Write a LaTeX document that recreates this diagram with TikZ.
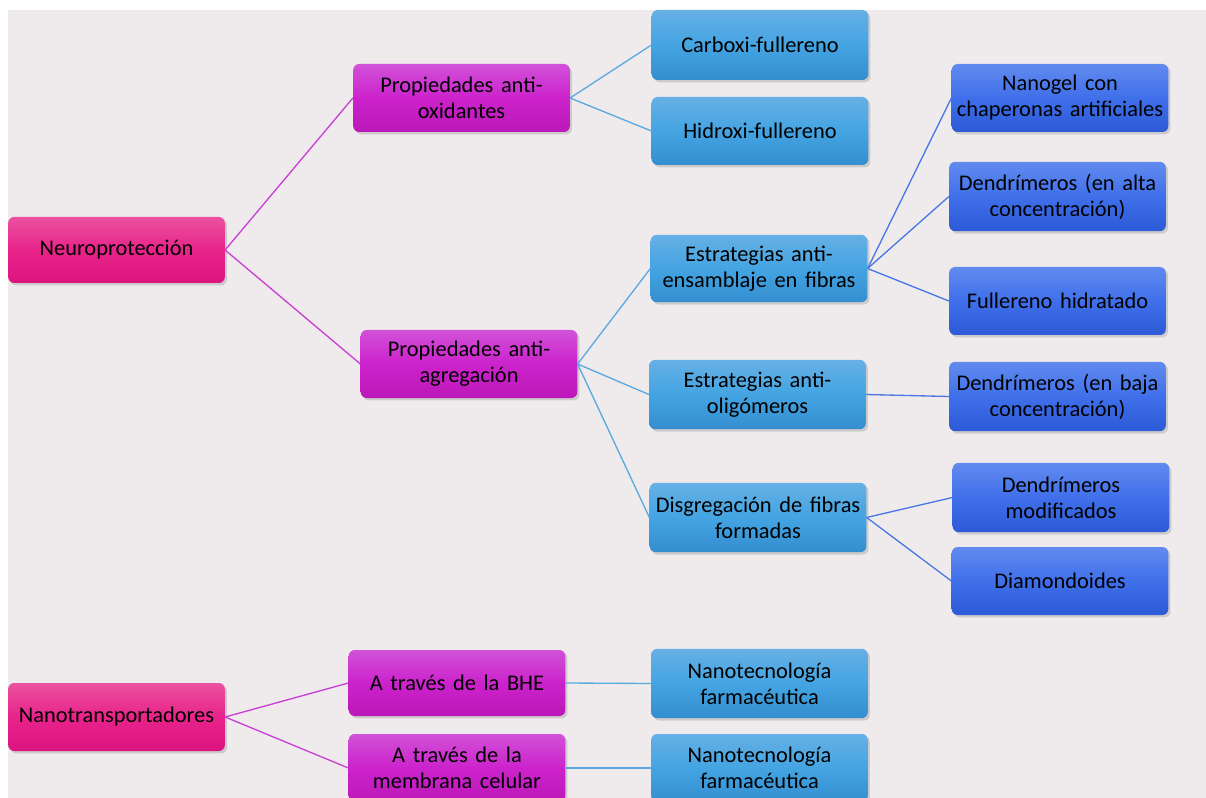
\documentclass[tikz,border=0pt]{standalone}
\usepackage{fontspec}
\setmainfont{Carlito}[WordSpace=1.5]
\usetikzlibrary{shadows}
\definecolor{bgc}{HTML}{EFEBEC}
\definecolor{pinkT}{HTML}{EA529F}
\definecolor{pinkM}{HTML}{E8238A}
\definecolor{pinkB}{HTML}{DB1480}
\definecolor{magT}{HTML}{D152D8}
\definecolor{magM}{HTML}{CC22CC}
\definecolor{magB}{HTML}{BC18B8}
\definecolor{lbT}{HTML}{66B0E5}
\definecolor{lbM}{HTML}{44A4E2}
\definecolor{lbB}{HTML}{348ED0}
\definecolor{dbT}{HTML}{628BEF}
\definecolor{dbM}{HTML}{3F6FEA}
\definecolor{dbB}{HTML}{2D5AD6}
\definecolor{magline}{HTML}{C840D4}
\definecolor{lbline}{HTML}{5AAAE0}
\definecolor{dbline}{HTML}{4A78E4}
\tikzset{
  basebox/.style={rectangle, rounded corners=4.5pt, minimum width=162.5pt, minimum height=51pt,
    inner sep=1pt, align=center, text=black,
    font=\fontsize{16.8}{19.5}\selectfont,
    drop shadow={opacity=0.3, shadow xshift=1.6pt, shadow yshift=-1.8pt}},
  pinkbox/.style={basebox, top color=pinkT, bottom color=pinkB, middle color=pinkM},
  magbox/.style={basebox, top color=magT, bottom color=magB, middle color=magM},
  lbbox/.style={basebox, top color=lbT, bottom color=lbB, middle color=lbM},
  dbbox/.style={basebox, top color=dbT, bottom color=dbB, middle color=dbM},
  magedge/.style={draw=magline, line width=1pt},
  lbedge/.style={draw=lbline, line width=1pt},
  dbedge/.style={draw=dbline, line width=1pt},
}
\begin{document}
\begin{tikzpicture}[x=0.75pt,y=-0.75pt]
\useasboundingbox (0,0) rectangle (1206,798);
\fill[white] (0,0) rectangle (1206,798);
\fill[bgc] (8,10) rectangle (1206,798);

\node[pinkbox, minimum height=49.5pt] (np) at (116.5,250) {Neuroprotección};
\node[magbox] (pao) at (461.5,98) {Propiedades anti-\\oxidantes};
\node[lbbox, minimum height=52.5pt] (carb) at (760,45) {Carboxi-fullereno};
\node[lbbox] (hidr) at (760,131) {Hidroxi-fullereno};
\node[dbbox] (nano) at (1060,98) {Nanogel con\\chaperonas artificiales};
\node[dbbox, minimum height=52pt] (dalta) at (1057.5,196.5) {Dendrímeros (en alta\\concentración)};
\node[dbbox] (fhid) at (1057.5,301) {Fullereno hidratado};
\node[lbbox, minimum height=50.5pt] (eens) at (759,268.5) {Estrategias anti-\\ensamblaje en fibras};
\node[magbox] (paa) at (469,364) {Propiedades anti-\\agregación};
\node[lbbox, minimum height=52pt] (eoli) at (757.5,394.5) {Estrategias anti-\\oligómeros};
\node[dbbox, minimum height=52pt] (dbaja) at (1057.5,396.5) {Dendrímeros (en baja\\concentración)};
\node[lbbox, minimum height=52pt] (disg) at (758,517.5) {Disgregación de fibras\\formadas};
\node[dbbox, minimum height=52pt] (dmod) at (1061,497.5) {Dendrímeros\\modificados};
\node[dbbox] (diam) at (1060,581) {Diamondoides};
\node[pinkbox] (nt) at (116.5,717) {Nanotransportadores};
\node[magbox, minimum height=49.5pt] (bhe) at (457,683) {A través de la BHE};
\node[magbox] (memb) at (457,768) {A través de la\\membrana celular};
\node[lbbox, minimum height=52pt] (nt1) at (759.5,683.5) {Nanotecnología\\farmacéutica};
\node[lbbox] (nt2) at (759.5,768) {Nanotecnología\\farmacéutica};

\draw[magedge] (np.east) -- (pao.west);
\draw[magedge] (np.east) -- (paa.west);
\draw[lbedge] (pao.east) -- (carb.west);
\draw[lbedge] (pao.east) -- (hidr.west);
\draw[lbedge] (paa.east) -- (eens.west);
\draw[lbedge] (paa.east) -- (eoli.west);
\draw[lbedge] (paa.east) -- (disg.west);
\draw[dbedge] (eens.east) -- (nano.west);
\draw[dbedge] (eens.east) -- (dalta.west);
\draw[dbedge] (eens.east) -- (fhid.west);
\draw[dbedge] (eoli.east) -- (dbaja.west);
\draw[dbedge] (disg.east) -- (dmod.west);
\draw[dbedge] (disg.east) -- (diam.west);
\draw[magedge] (nt.east) -- (bhe.west);
\draw[magedge] (nt.east) -- (memb.west);
\draw[lbedge] (bhe.east) -- (nt1.west);
\draw[lbedge] (memb.east) -- (nt2.west);
\end{tikzpicture}
\end{document}
